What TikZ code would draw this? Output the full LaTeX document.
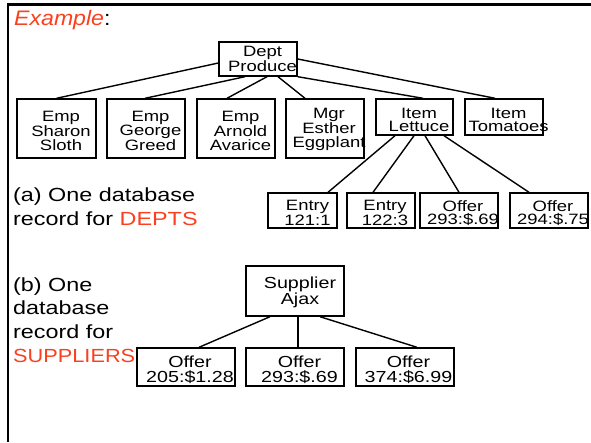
\documentclass[tikz,border=0pt]{standalone}
\usepackage{fontspec}
\setmainfont[FakeStretch=1.23]{Liberation Sans}
\newfontfamily\exfont[FakeStretch=1.1]{Liberation Sans}
\usetikzlibrary{calc}
\definecolor{accent}{RGB}{250,64,30}
\begin{document}
\begin{tikzpicture}[x=1pt,y=-1pt,
  box/.style={draw,line width=1.4pt,inner sep=0pt},
  lbl/.style={align=center,inner sep=0pt,font=\fontsize{15}{13.5}\selectfont},
  lblb/.style={align=center,inner sep=0pt,font=\fontsize{16}{14.5}\selectfont},
  side/.style={anchor=base west,inner sep=0pt,font=\fontsize{19}{23}\selectfont},
  conn/.style={line width=1.4pt},
  frame/.style={line width=2.5pt}]
\useasboundingbox (0,0) rectangle (591,442);
% frame
\coordinate (fb) at (8,442);
\coordinate (fc) at (8,4.3);
\coordinate (fr) at (591,4.3);
\draw[frame] (fb) -- (fc) -- (fr);
% title
\node[anchor=base west,inner sep=0pt,font=\exfont\fontsize{21}{24}\selectfont] (title) at (14,25) {\textcolor{accent}{\itshape Example}:};
% tree (a)
\node[box,minimum width=78pt,minimum height=34pt] (dept) at (258,59) {};
\node[lbl] (tdept) at ([xshift=4.5pt]dept.center) {Dept\\Produce};
\node[box,minimum width=79pt,minimum height=59pt] (emp1) at (56.5,128.5) {};
\node[lbl] (temp1) at ([xshift=4.5pt,yshift=-2.5pt]emp1.center) {Emp\\Sharon\\Sloth};
\node[box,minimum width=78pt,minimum height=59pt] (emp2) at (146,128.5) {};
\node[lbl] (temp2) at ([xshift=4.5pt,yshift=-2.5pt]emp2.center) {Emp\\George\\Greed};
\node[box,minimum width=78pt,minimum height=59pt] (emp3) at (236,128.5) {};
\node[lbl] (temp3) at ([xshift=4.5pt,yshift=-2.5pt]emp3.center) {Emp\\Arnold\\Avarice};
\node[box,minimum width=78pt,minimum height=59pt] (mgr) at (325,128.5) {};
\node[lbl] (tmgr) at ([xshift=4pt,yshift=-1pt]mgr.center) {Mgr\\Esther\\Eggplant};
\node[box,minimum width=77pt,minimum height=36pt] (let) at (414.5,117) {};
\node[lbl] (tlet) at ([xshift=4.5pt,yshift=-3pt]let.center) {Item\\Lettuce};
\node[box,minimum width=78pt,minimum height=36pt] (tom) at (504,117) {};
\node[lbl] (ttom) at ([xshift=4.5pt,yshift=-3pt]tom.center) {Item\\Tomatoes};
\node[box,minimum width=69pt,minimum height=35pt] (ent1) at (302.5,210.5) {};
\node[lbl] (tent1) at ([xshift=5pt,yshift=-2.5pt]ent1.center) {Entry\\121:1};
\node[box,minimum width=68pt,minimum height=35pt] (ent2) at (381,210.5) {};
\node[lbl] (tent2) at ([xshift=4pt,yshift=-2.5pt]ent2.center) {Entry\\122:3};
\node[box,minimum width=78pt,minimum height=35pt] (off1) at (459,210.5) {};
\node[lbl] (toff1) at ([xshift=4pt,yshift=-2.5pt]off1.center) {Offer\\293:\$.69};
\node[box,minimum width=78pt,minimum height=35pt] (off2) at (549,210.5) {};
\node[lbl] (toff2) at ([xshift=4pt,yshift=-2.5pt]off2.center) {Offer\\294:\$.75};
% connectors (a)
\draw[conn] ([yshift=-4pt]dept.west) -- (emp1.north);
\draw[conn] ([xshift=-13pt]dept.south) -- ([xshift=-1pt]emp2.north);
\draw[conn] ([xshift=9pt]dept.south) -- ([xshift=-9pt]emp3.north);
\draw[conn] ([xshift=20pt]dept.south) -- ([xshift=-20pt]mgr.north);
\draw[conn] (dept.south east) -- ([xshift=8.5pt]let.north);
\draw[conn] (dept.east) -- ([xshift=-9pt]tom.north);
\draw[conn] ([xshift=-19.5pt]let.south) -- ([xshift=25.5pt]ent1.north);
\draw[conn] ([xshift=-0.5pt]let.south) -- ([xshift=-8pt]ent2.north);
\draw[conn] ([xshift=10.5pt]let.south) -- (off1.north);
\draw[conn] ([xshift=29.5pt]let.south) -- ([xshift=-20pt]off2.north);
% caption (a)
\node[side] (ca1) at (13,201) {(a) One database};
\node[side] (ca2) at (13,225) {record for \textcolor{accent}{DEPTS}};
% tree (b)
\node[box,minimum width=98pt,minimum height=50pt] (sup) at (295,291) {};
\node[lblb] (tsup) at ([xshift=5pt,yshift=-1pt]sup.center) {Supplier\\Ajax};
\node[box,minimum width=98pt,minimum height=38pt] (o205) at (186,367) {};
\node[lblb] (to205) at ([xshift=4pt,yshift=-3pt]o205.center) {Offer\\205:\$1.28};
\node[box,minimum width=98pt,minimum height=38pt] (o293) at (295,367) {};
\node[lblb] (to293) at ([xshift=4.5pt,yshift=-3pt]o293.center) {Offer\\293:\$.69};
\node[box,minimum width=98pt,minimum height=38pt] (o374) at (405,367) {};
\node[lblb] (to374) at ([xshift=3.5pt,yshift=-3pt]o374.center) {Offer\\374:\$6.99};
\draw[conn] ([xshift=-25pt]sup.south) -- ([xshift=13pt]o205.north);
\draw[conn] ([xshift=3pt]sup.south) -- ([xshift=3pt]o293.north);
\draw[conn] ([xshift=25pt]sup.south) -- ([xshift=12pt]o374.north);
% caption (b)
\node[side] (cb1) at (13,291) {(b) One};
\node[side] (cb2) at (13,314) {database};
\node[side] (cb3) at (13,338) {record for};
\node[side] (cb4) at (13,362) {\textcolor{accent}{\scalebox{0.93}[1]{SUPPLIERS}}};
\end{tikzpicture}
\end{document}
